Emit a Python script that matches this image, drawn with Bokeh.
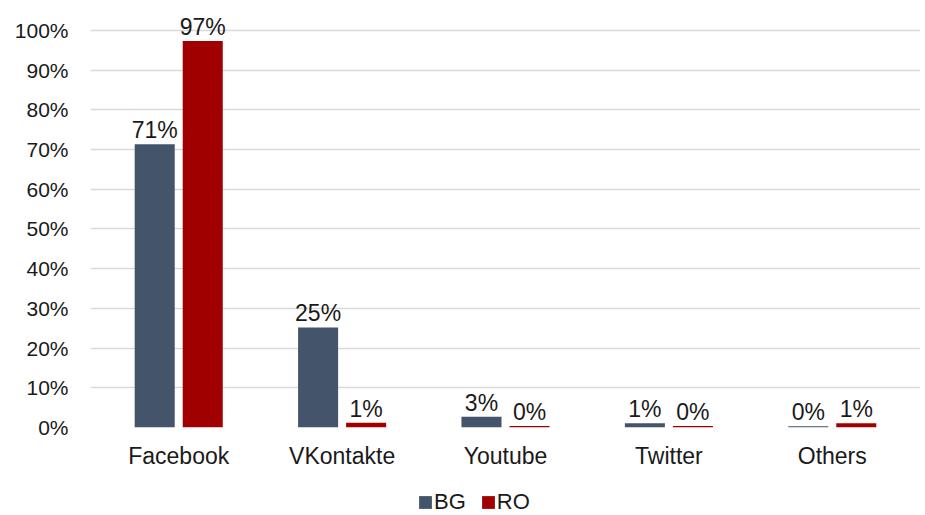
from bokeh.plotting import figure
from bokeh.layouts import column
from bokeh.models import (ColumnDataSource, FactorRange, Range1d, FixedTicker,
                          PrintfTickFormatter, Legend, LegendItem)
from bokeh.transform import dodge
from bokeh.core.properties import value
from bokeh.embed import file_html
from bokeh.resources import INLINE

categories = ["Facebook", "VKontakte", "Youtube", "Twitter", "Others"]
bg_values = [71.3, 25.2, 2.7, 1.1, 0.3]
ro_values = [97.3, 1.2, 0.4, 0.4, 1.1]
series_names = ["BG", "RO"]
y_ticks = [0, 10, 20, 30, 40, 50, 60, 70, 80, 90, 100]

BG_COLOR = "#44546A"
RO_COLOR = "#A00000"
FONT = "Liberation Sans"
TEXT_COLOR = "#1a1a1a"

source = ColumnDataSource(data=dict(
    cat=categories,
    bg=bg_values,
    ro=ro_values,
    bg_lbl=[f"{v:.0f}%" for v in bg_values],
    ro_lbl=[f"{v:.0f}%" for v in ro_values],
))

x_range = FactorRange(factors=categories, range_padding=0.04, range_padding_units="absolute")

p = figure(
    width=925, height=482,
    x_range=x_range,
    y_range=Range1d(0, 107),
    output_backend="svg", toolbar_location=None,
    min_border_left=90, min_border_right=5, min_border_top=2, min_border_bottom=55,
)
p.outline_line_color = None
p.background_fill_color = "white"
p.border_fill_color = "white"

off = 0.147
w = 0.245
p.vbar(x=dodge("cat", -off, range=x_range), top="bg", width=w, source=source,
       fill_color=BG_COLOR, line_color=None)
p.vbar(x=dodge("cat", off, range=x_range), top="ro", width=w, source=source,
       fill_color=RO_COLOR, line_color=None)

for col, d in (("bg", -off), ("ro", off)):
    p.text(x=dodge("cat", d, range=x_range), y=col, text=col + "_lbl", source=source,
           y_offset=-14, text_align="center", text_baseline="alphabetic",
           text_font=value(FONT), text_font_size="23px", text_color=TEXT_COLOR)

# axes
p.yaxis.ticker = FixedTicker(ticks=y_ticks)
p.yaxis.formatter = PrintfTickFormatter(format="%d%%")
p.yaxis.axis_line_color = None
p.yaxis.major_tick_line_color = None
p.yaxis.minor_tick_line_color = None
p.yaxis.major_tick_out = 0
p.yaxis.major_tick_in = 0
p.yaxis.major_label_standoff = 22
p.yaxis.major_label_text_font = FONT
p.yaxis.major_label_text_font_size = "21px"
p.yaxis.major_label_text_color = TEXT_COLOR

p.xaxis.axis_line_color = None
p.xaxis.major_tick_line_color = None
p.xaxis.minor_tick_line_color = None
p.xaxis.major_tick_out = 0
p.xaxis.major_tick_in = 0
p.xaxis.major_label_standoff = 15
p.xaxis.major_label_text_font = FONT
p.xaxis.major_label_text_font_size = "23px"
p.xaxis.major_label_text_color = TEXT_COLOR

p.xgrid.grid_line_color = None
p.ygrid.grid_line_color = "#D9D9D9"
p.ygrid.grid_line_width = 1.5
p.ygrid.ticker = FixedTicker(ticks=y_ticks)

# legend strip below the chart (its bars lie outside its visible y range,
# only the legend swatches are seen)
lg = figure(
    width=925, height=33, x_range=x_range, y_range=Range1d(200, 300),
    x_axis_type=None, y_axis_type=None,
    output_backend="svg", toolbar_location=None,
    min_border_left=0, min_border_right=0, min_border_top=0, min_border_bottom=0,
)
lg.outline_line_color = None
lg.xgrid.visible = False
lg.ygrid.visible = False
lr_bg = lg.vbar(x=dodge("cat", -off, range=x_range), top="bg", width=w, source=source,
                fill_color=BG_COLOR, line_color=None)
lr_ro = lg.vbar(x=dodge("cat", off, range=x_range), top="ro", width=w, source=source,
                fill_color=RO_COLOR, line_color=None)

legend = Legend(
    items=[LegendItem(label=series_names[0], renderers=[lr_bg]),
           LegendItem(label=series_names[1], renderers=[lr_ro])],
    location=(327, 0), orientation="horizontal",
    glyph_width=16, glyph_height=16, label_standoff=1, spacing=14,
    padding=0, margin=0, border_line_color=None, background_fill_alpha=0,
    label_text_font=FONT, label_text_font_size="22px", label_text_color=TEXT_COLOR,
)
lg.add_layout(legend, "center")

layout = column(p, lg, spacing=0)
open("out.html", "w").write(file_html(layout, INLINE))
